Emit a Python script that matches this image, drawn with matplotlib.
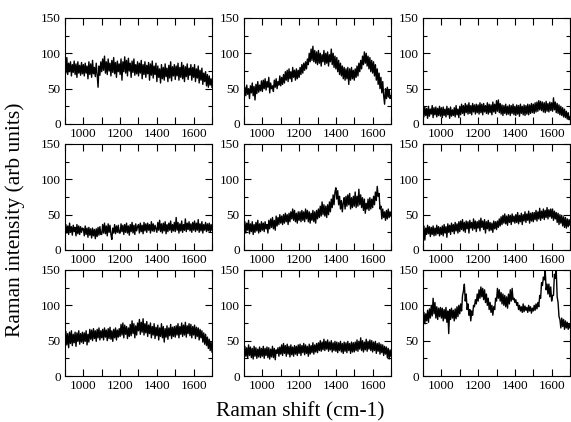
import numpy as np
import matplotlib
matplotlib.use('Agg')
import matplotlib.pyplot as plt
from matplotlib.ticker import MultipleLocator

plt.rcParams['font.family'] = ['Liberation Serif', 'DejaVu Serif']

# intensity, one value every 5 cm-1 from 900 to 1700
spec_a = [90, 72, 94, 70, 86, 74, 88, 68, 84, 73, 89, 70, 85, 66, 88, 72, 83, 69, 87, 71,
          84, 68, 86, 72, 82, 64, 88, 70, 85, 66, 90, 71, 80, 67, 86, 70, 52, 82, 69, 88,
          74, 92, 76, 96, 72, 88, 70, 92, 75, 86, 68, 90, 73, 94, 71, 87, 66, 89, 74, 85,
          70, 92, 62, 88, 74, 95, 72, 90, 68, 93, 75, 86, 66, 89, 73, 92, 69, 84, 71, 88,
          68, 86, 72, 90, 64, 84, 70, 88, 66, 83, 71, 87, 62, 85, 69, 89, 65, 82, 70, 86,
          60, 82, 66, 78, 58, 84, 64, 80, 62, 85, 67, 79, 60, 83, 65, 88, 61, 81, 68, 84,
          63, 82, 68, 86, 62, 80, 66, 87, 64, 83, 60, 81, 67, 85, 63, 79, 69, 84, 62, 80,
          66, 84, 60, 78, 65, 82, 58, 76, 62, 79, 56, 72, 60, 74, 54, 70, 52, 68, 55, 64,
          52]
spec_b = [38, 52, 40, 55, 42, 50, 36, 54, 44, 58, 40, 53, 34, 56, 43, 60, 45, 55, 47, 61,
          46, 62, 50, 64, 48, 60, 52, 66, 44, 58, 50, 54, 46, 62, 52, 64, 50, 60, 55, 68,
          54, 66, 56, 70, 58, 74, 62, 76, 60, 78, 64, 74, 60, 80, 66, 76, 62, 78, 64, 76,
          66, 80, 70, 84, 72, 86, 76, 88, 78, 92, 84, 100, 88, 106, 90, 110, 88, 104, 86, 102,
          84, 104, 86, 100, 82, 98, 88, 104, 84, 100, 86, 102, 82, 98, 88, 106, 84, 100, 80, 96,
          78, 94, 74, 90, 70, 86, 68, 82, 64, 80, 62, 78, 64, 80, 56, 78, 62, 80, 64, 76,
          62, 78, 66, 82, 68, 86, 74, 90, 78, 96, 84, 102, 86, 100, 82, 96, 78, 94, 74, 90,
          72, 88, 68, 84, 62, 78, 56, 72, 50, 66, 44, 60, 40, 28, 50, 36, 52, 38, 48, 36,
          40]
spec_c = [26, 10, 24, 12, 22, 8, 25, 11, 21, 14, 26, 9, 23, 13, 24, 10, 22, 12, 25, 11,
          23, 9, 24, 12, 21, 10, 25, 13, 22, 8, 24, 11, 20, 12, 23, 10, 26, 13, 21, 9,
          25, 13, 28, 15, 26, 12, 29, 16, 27, 14, 30, 15, 26, 13, 29, 17, 27, 14, 28, 16,
          27, 14, 30, 16, 28, 13, 29, 17, 26, 15, 30, 14, 28, 16, 27, 13, 31, 17, 28, 15,
          33, 18, 34, 16, 29, 14, 27, 12, 26, 15, 28, 13, 25, 14, 27, 12, 26, 15, 28, 13,
          25, 12, 27, 14, 26, 11, 28, 15, 25, 13, 27, 12, 26, 14, 28, 13, 27, 15, 29, 16,
          28, 15, 30, 17, 31, 18, 33, 20, 32, 19, 31, 17, 30, 16, 32, 18, 29, 17, 31, 19,
          30, 18, 37, 20, 31, 16, 29, 15, 27, 13, 25, 12, 23, 10, 21, 9, 18, 7, 16, 6,
          10]
spec_d = [20, 36, 24, 34, 22, 38, 25, 33, 21, 35, 26, 32, 20, 36, 23, 34, 22, 33, 25, 31,
          30, 20, 34, 22, 31, 18, 32, 21, 30, 17, 31, 20, 29, 16, 30, 19, 32, 21, 33, 22,
          22, 36, 24, 38, 23, 34, 20, 37, 25, 35, 22, 15, 31, 24, 36, 23, 34, 25, 35, 24,
          24, 37, 26, 35, 22, 36, 25, 38, 24, 34, 21, 36, 26, 39, 24, 35, 22, 37, 27, 33,
          36, 24, 38, 26, 35, 23, 39, 27, 37, 25, 38, 28, 36, 24, 40, 27, 37, 26, 35, 30,
          25, 39, 28, 42, 26, 37, 24, 38, 27, 40, 23, 36, 26, 38, 28, 41, 25, 36, 27, 39,
          26, 46, 28, 39, 24, 37, 27, 41, 25, 36, 28, 44, 26, 38, 29, 40, 27, 37, 25, 39,
          28, 41, 26, 38, 28, 43, 25, 37, 27, 40, 24, 36, 28, 39, 26, 37, 27, 38, 25, 36,
          28]
spec_e = [26, 40, 24, 38, 28, 42, 23, 37, 26, 40, 22, 36, 25, 39, 27, 42, 24, 37, 26, 40,
          28, 38, 26, 40, 30, 36, 24, 42, 30, 44, 32, 46, 30, 42, 28, 48, 34, 46, 36, 50,
          38, 48, 36, 50, 38, 52, 40, 50, 36, 52, 40, 54, 44, 58, 42, 56, 40, 52, 38, 54,
          42, 54, 40, 56, 42, 54, 40, 58, 44, 56, 40, 54, 38, 52, 42, 56, 40, 54, 38, 56,
          44, 58, 46, 62, 48, 68, 50, 64, 48, 62, 46, 64, 50, 68, 54, 72, 60, 78, 64, 82,
          88, 72, 84, 64, 76, 58, 70, 54, 66, 74, 58, 76, 62, 78, 64, 80, 58, 74, 60, 76,
          62, 82, 60, 76, 62, 86, 64, 78, 60, 74, 56, 72, 52, 66, 58, 72, 56, 74, 58, 72,
          60, 76, 64, 82, 70, 90, 76, 80, 58, 62, 44, 58, 46, 54, 42, 56, 44, 58, 46, 54,
          48]
spec_f = [20, 34, 14, 31, 22, 35, 23, 33, 19, 32, 22, 34, 20, 31, 21, 35, 23, 33, 20, 32,
          22, 34, 20, 36, 24, 33, 18, 37, 25, 35, 22, 38, 26, 36, 23, 39, 27, 37, 24, 40,
          26, 41, 29, 43, 27, 39, 25, 41, 30, 40, 24, 42, 31, 39, 28, 44, 30, 41, 26, 40,
          31, 42, 27, 45, 32, 41, 29, 43, 24, 40, 30, 42, 27, 39, 28, 38, 25, 41, 30, 40,
          29, 41, 32, 44, 34, 47, 36, 49, 38, 51, 37, 48, 35, 50, 39, 49, 36, 51, 40, 48,
          38, 50, 39, 53, 37, 49, 40, 52, 36, 50, 41, 54, 39, 51, 42, 55, 38, 52, 41, 53,
          40, 53, 43, 56, 41, 54, 44, 59, 42, 55, 45, 58, 43, 56, 46, 60, 44, 57, 47, 58,
          45, 58, 42, 55, 44, 53, 39, 52, 36, 50, 38, 49, 34, 47, 32, 46, 31, 44, 33, 43,
          35]
spec_g = [48, 63, 44, 60, 40, 62, 46, 64, 43, 59, 47, 62, 42, 61, 49, 64, 45, 60, 48, 62,
          46, 61, 49, 64, 44, 59, 48, 66, 52, 65, 50, 67, 53, 64, 49, 66, 54, 68, 51, 64,
          54, 66, 51, 68, 55, 65, 50, 67, 53, 69, 52, 64, 49, 66, 54, 68, 51, 65, 55, 67,
          56, 73, 58, 75, 54, 72, 59, 70, 53, 68, 56, 73, 57, 78, 60, 74, 54, 71, 58, 75,
          64, 80, 59, 76, 62, 81, 58, 74, 61, 77, 56, 72, 60, 75, 54, 70, 58, 74, 53, 69,
          57, 72, 51, 68, 56, 74, 54, 70, 48, 67, 55, 71, 52, 68, 57, 73, 53, 69, 56, 70,
          55, 71, 58, 74, 54, 70, 59, 75, 56, 72, 58, 76, 55, 71, 60, 74, 57, 73, 54, 70,
          58, 72, 53, 69, 56, 68, 51, 66, 54, 64, 48, 61, 45, 59, 43, 55, 39, 52, 36, 48,
          34]
spec_h = [24, 42, 28, 40, 25, 44, 29, 41, 26, 39, 24, 42, 28, 40, 25, 38, 27, 41, 26, 39,
          28, 42, 25, 39, 29, 41, 26, 40, 24, 38, 27, 42, 26, 39, 23, 37, 32, 40, 28, 41,
          31, 44, 29, 46, 32, 43, 28, 45, 31, 42, 27, 44, 30, 41, 28, 43, 31, 42, 29, 44,
          32, 45, 29, 43, 33, 46, 30, 44, 32, 42, 28, 45, 31, 43, 33, 47, 31, 44, 34, 46,
          33, 47, 36, 50, 35, 48, 37, 52, 36, 49, 38, 51, 35, 48, 37, 50, 34, 47, 36, 49,
          35, 48, 33, 47, 36, 49, 34, 46, 32, 48, 35, 47, 33, 49, 36, 46, 32, 48, 34, 47,
          34, 48, 36, 51, 35, 49, 38, 54, 36, 50, 34, 48, 37, 52, 35, 49, 38, 51, 36, 50,
          34, 48, 36, 49, 32, 46, 35, 47, 31, 45, 33, 44, 29, 42, 31, 41, 26, 39, 24, 37,
          28]
spec_i = [76, 90, 74, 88, 78, 93, 76, 95, 82, 100, 85, 110, 88, 104, 82, 98, 80, 96, 84, 97,
          82, 96, 78, 94, 81, 97, 76, 92, 60, 94, 80, 96, 82, 93, 78, 95, 81, 98, 84, 100,
          88, 102, 92, 114, 120, 130, 106, 116, 94, 102, 86, 94, 78, 92, 86, 100, 98, 108, 102, 116,
          106, 122, 110, 126, 112, 124, 108, 122, 104, 116, 100, 110, 94, 104, 90, 100, 86, 98, 94, 110,
          106, 124, 110, 122, 106, 118, 102, 116, 100, 114, 98, 112, 96, 116, 102, 122, 106, 124, 108, 110,
          104, 108, 100, 104, 94, 100, 92, 98, 90, 102, 91, 99, 93, 97, 90, 100, 92, 98, 89, 96,
          92, 100, 93, 102, 95, 104, 98, 114, 110, 132, 128, 140, 136, 150, 122, 130, 116, 130, 112, 126,
          106, 114, 114, 144, 138, 150, 112, 104, 84, 80, 68, 82, 70, 80, 66, 78, 68, 76, 66, 74,
          68]

spectra = [spec_a, spec_b, spec_c, spec_d, spec_e, spec_f, spec_g, spec_h, spec_i]

fig = plt.figure(figsize=(5.71, 4.22), dpi=100)

lefts = [0.1138, 0.4273, 0.7408]
bottoms = [0.7062, 0.4076, 0.109]
w, h = 0.2575, 0.2512

for n, spec in enumerate(spectra):
    r, c = divmod(n, 3)
    ax = fig.add_axes([lefts[c], bottoms[r], w, h])
    shift = np.linspace(900, 1700, len(spec))
    ax.plot(shift, spec, color='black', lw=1.0)
    ax.set_xlim(900, 1700)
    ax.set_ylim(0, 150)
    ax.xaxis.set_major_locator(MultipleLocator(200))
    ax.xaxis.set_minor_locator(MultipleLocator(100))
    ax.yaxis.set_major_locator(MultipleLocator(50))
    ax.yaxis.set_minor_locator(MultipleLocator(25))
    ax.tick_params(which='both', direction='in', top=True, right=True,
                   labelsize=9.5, width=0.8, pad=3)
    ax.tick_params(which='major', length=5)
    ax.tick_params(which='minor', length=3)
    ax.xaxis.set_tick_params(which='minor', length=5)
    for s in ax.spines.values():
        s.set_linewidth(0.8)

fig.text(0.027, 0.48, 'Raman intensity (arb units)', rotation=90,
         ha='center', va='center', fontsize=15.5)
fig.text(0.525, 0.025, 'Raman shift (cm-1)', ha='center', va='center',
         fontsize=15.5)

fig.savefig('out.png', dpi=100)
